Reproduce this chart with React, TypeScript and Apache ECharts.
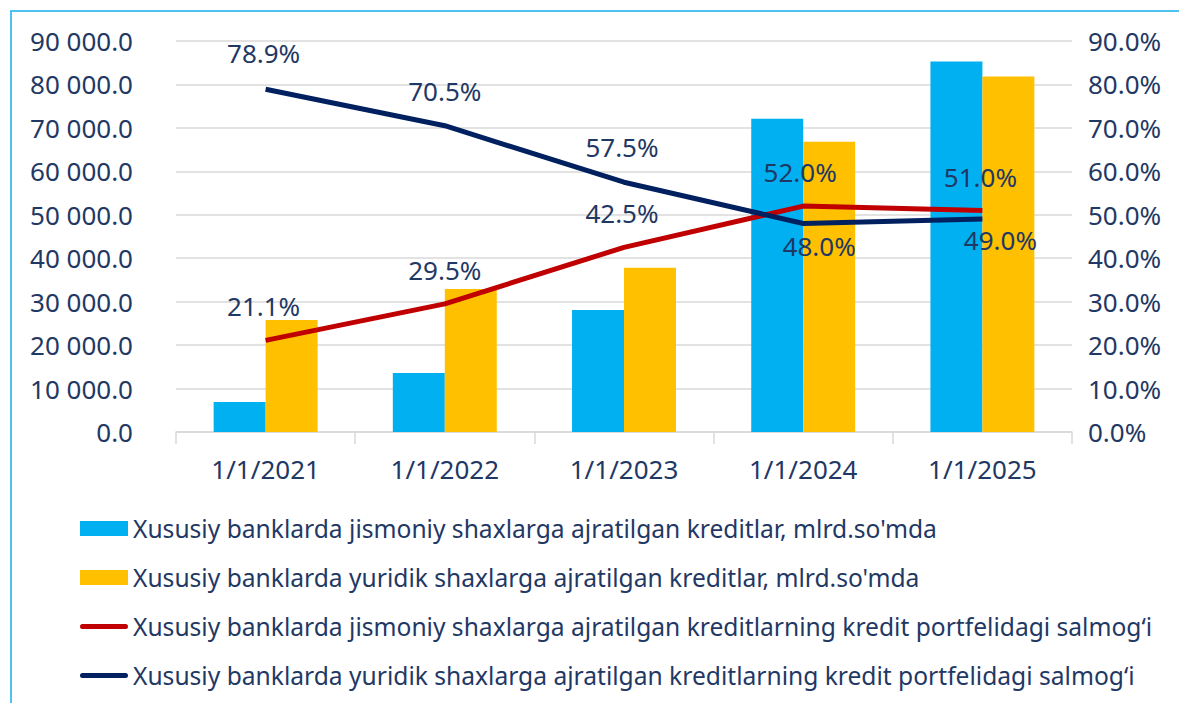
import React, { useEffect, useRef } from "react";
import * as echarts from "echarts";

const categories = ["1/1/2021", "1/1/2022", "1/1/2023", "1/1/2024", "1/1/2025"];
const individualLoans = [6900, 13600, 28100, 72100, 85300];
const legalLoans = [25800, 32900, 37800, 66800, 81800];
const individualShare = [21.1, 29.5, 42.5, 52.0, 51.0];
const legalShare = [78.9, 70.5, 57.5, 48.0, 49.0];

const seriesNames = [
  "Xususiy banklarda jismoniy shaxlarga ajratilgan kreditlar, mlrd.so'mda",
  "Xususiy banklarda yuridik shaxlarga ajratilgan kreditlar, mlrd.so'mda",
  "Xususiy banklarda jismoniy shaxlarga ajratilgan kreditlarning kredit portfelidagi salmog\u2018i",
  "Xususiy banklarda yuridik shaxlarga ajratilgan kreditlarning kredit portfelidagi salmog\u2018i",
];

const TEXT = "#1F3864";
const FONT = "Noto Sans";
const LINE_ICON = "path://M0,0h0.05v0.05h-0.05zM2.5,5h43a2.5,2.5 0 0 1 0,5h-43a2.5,2.5 0 0 1 0,-5zM48,15h-0.05v-0.05h0.05z";

function fmtThousands(v: number): string {
  const s = Math.round(v).toString().replace(/\B(?=(\d{3})+(?!\d))/g, " ");
  return s + ".0";
}

export default function App() {
  const ref = useRef<HTMLDivElement>(null);
  useEffect(() => {
    document.body.style.margin = "0";
    const chart = echarts.init(ref.current!, undefined, { renderer: "svg" });
    const pctLabel = (v: any) => Number(v.value).toFixed(1) + "%";
    const redLabelCfg = [
      { position: "top", distance: 21, offset: [-2, 0] },
      { position: "top", distance: 21, offset: [0, 0] },
      { position: "top", distance: 21, offset: [-2, 0] },
      { position: "top", distance: 21, offset: [-3, 0] },
      { position: "top", distance: 20, offset: [-2, 0] },
    ];
    const navyLabelCfg = [
      { position: "top", distance: 23, offset: [-2, 0] },
      { position: "top", distance: 22, offset: [0, 0] },
      { position: "top", distance: 22, offset: [-2, 0] },
      { position: "bottom", distance: 9, offset: [16, 0] },
      { position: "bottom", distance: 8, offset: [18, 0] },
    ];
    const labelSeries = (vals: number[], cfg: any[], name: string) => ({
      name: name + "_labels",
      type: "scatter",
      yAxisIndex: 1,
      symbol: "circle",
      symbolSize: 0.1,
      itemStyle: { color: TEXT, opacity: 1 },
      z: 5,
      silent: true,
      emphasis: { disabled: true },
      data: vals.map((v, i) => ({
        value: v,
        label: {
          show: true,
          position: cfg[i].position,
          distance: cfg[i].distance,
          offset: cfg[i].offset,
          color: TEXT,
          opacity: 1,
          textBorderWidth: 0,
          fontSize: 26,
          fontFamily: FONT,
          formatter: pctLabel,
        },
      })),
    });
    chart.setOption({
      animation: false,
      textStyle: { fontFamily: FONT },
      grid: { left: 176, right: 107, top: 41, bottom: 271 },
      legend: {
        orient: "vertical",
        left: 75,
        top: 511,
        itemWidth: 48,
        itemHeight: 15,
        itemGap: 24,
        textStyle: { color: TEXT, fontSize: 24.6, fontFamily: FONT, lineHeight: 25 },
        data: seriesNames.map((n, i) => ({ name: n, icon: i < 2 ? "rect" : LINE_ICON })),
      },
      xAxis: {
        type: "category",
        data: categories,
        axisLine: { lineStyle: { color: "#D9D9D9", width: 1.5 } },
        axisTick: { show: true, length: 12, lineStyle: { color: "#D9D9D9", width: 1.5 } },
        axisLabel: { color: TEXT, fontSize: 26, margin: 24, fontFamily: FONT },
      },
      yAxis: [
        {
          type: "value",
          min: 0,
          max: 90000,
          interval: 10000,
          axisLine: { show: false },
          axisTick: { show: false },
          splitLine: { lineStyle: { color: "#D9D9D9", width: 1.5 } },
          axisLabel: { color: TEXT, fontSize: 26, margin: 43, fontFamily: FONT, formatter: fmtThousands },
        },
        {
          type: "value",
          min: 0,
          max: 90,
          interval: 10,
          axisLine: { show: false },
          axisTick: { show: false },
          splitLine: { show: false },
          axisLabel: { color: TEXT, fontSize: 26, margin: 16, fontFamily: FONT, formatter: (v: number) => v.toFixed(1) + "%" },
        },
      ],
      series: [
        {
          name: seriesNames[0],
          type: "bar",
          data: individualLoans,
          barGap: "0%",
          barCategoryGap: "42%",
          itemStyle: { color: "#00B0F0" },
        },
        {
          name: seriesNames[1],
          type: "bar",
          data: legalLoans,
          itemStyle: { color: "#FFC000" },
        },
        {
          name: seriesNames[2],
          type: "line",
          yAxisIndex: 1,
          symbol: "none",
          lineStyle: { color: "#C00000", width: 5 },
          itemStyle: { color: "#C00000" },
          z: 3,
          data: individualShare,
        },
        {
          name: seriesNames[3],
          type: "line",
          yAxisIndex: 1,
          symbol: "none",
          lineStyle: { color: "#002060", width: 5 },
          itemStyle: { color: "#002060" },
          z: 4,
          data: legalShare,
        },
        labelSeries(individualShare, redLabelCfg, "red"),
        labelSeries(legalShare, navyLabelCfg, "navy"),
      ],
    });
    return () => chart.dispose();
  }, []);
  return (
    <div style={{ position: "relative", width: 1179, height: 703, overflow: "hidden", background: "#fff" }}>
      <div
        style={{
          position: "absolute",
          left: 10,
          top: 10,
          width: 1200,
          height: 720,
          border: "2px solid #4FC3F0",
          boxSizing: "border-box",
          pointerEvents: "none",
          zIndex: 2,
        }}
      />
      <div ref={ref} style={{ position: "absolute", left: 0, top: 0, width: 1179, height: 703 }} />
    </div>
  );
}
